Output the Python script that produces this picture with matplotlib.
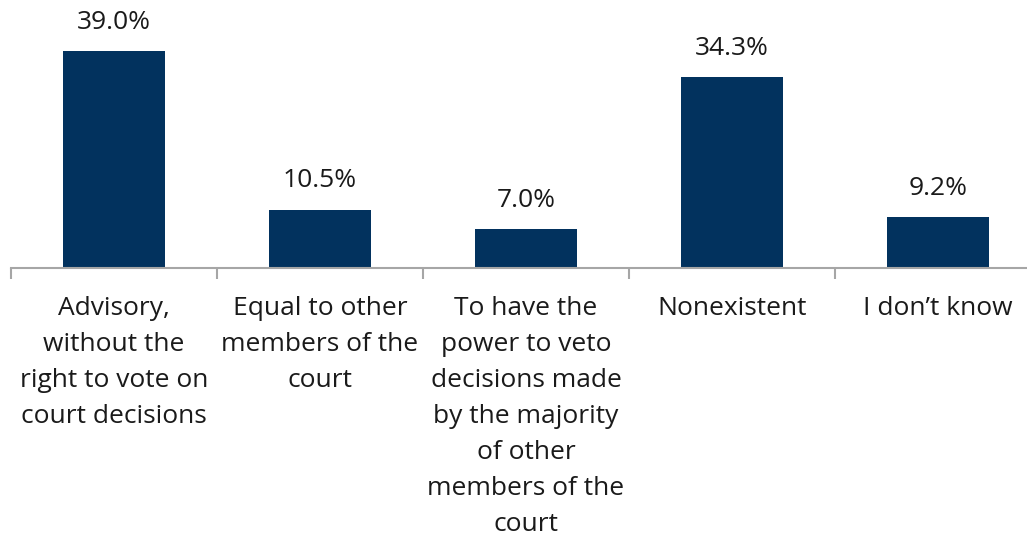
import matplotlib.pyplot as plt
import numpy as np

categories = [
    "Advisory,\nwithout the\nright to vote on\ncourt decisions",
    "Equal to other\nmembers of the\ncourt",
    "To have the\npower to veto\ndecisions made\nby the majority\nof other\nmembers of the\ncourt",
    "Nonexistent",
    "I don\u2019t know",
]
values = [39.0, 10.5, 7.0, 34.3, 9.2]

plt.rcParams['font.family'] = ['Open Sans', 'DejaVu Sans']

fig = plt.figure(figsize=(10.27, 5.37), dpi=100)
# axes extends a bit beyond the right edge, like the original
ax = fig.add_axes([11 / 1027, 269 / 537, 1030 / 1027, 250 / 537])

x = np.arange(len(values))
ax.bar(x, values, width=0.495, color="#02325e")

for xi, v in zip(x, values):
    ax.text(xi, v + 4.0, f"{v:.1f}%", ha="center", va="baseline", fontsize=19, color="#1a1a1a")

ax.set_xlim(-0.5, len(values) - 0.5)
ax.set_ylim(0, 45)

for s in ["top", "right", "left"]:
    ax.spines[s].set_visible(False)
ax.spines["bottom"].set_color("#a6a6a6")
ax.spines["bottom"].set_linewidth(1.5)
ax.set_yticks([])

ax.set_xticks(np.arange(len(values) + 1) - 0.5)
ax.set_xticklabels([])
ax.tick_params(axis="x", which="major", length=8, width=1.5, color="#a6a6a6", direction="out")
ax.set_xticks(x, minor=True)
ax.set_xticklabels(categories, minor=True, fontsize=19, color="#1a1a1a", linespacing=1.58)
ax.tick_params(axis="x", which="minor", length=0, pad=20)

fig.savefig("out.png", dpi=100)
